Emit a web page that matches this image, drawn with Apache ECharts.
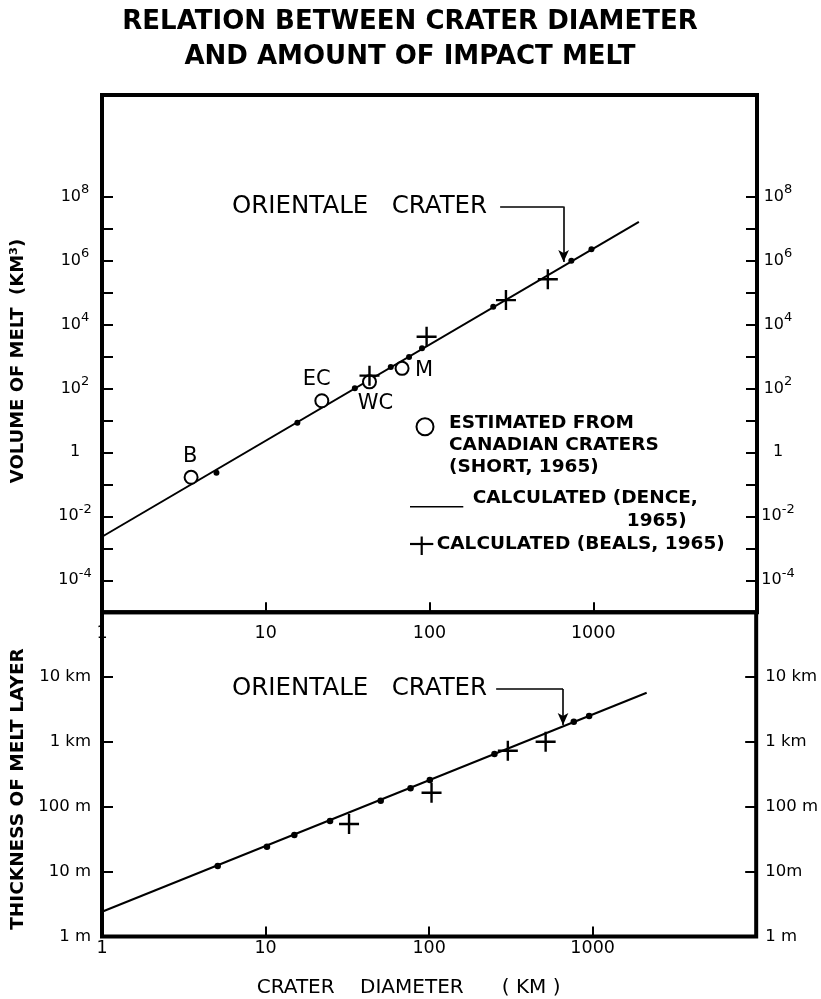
<!DOCTYPE html>
<html><head><meta charset="utf-8">
<script src="https://cdn.jsdelivr.net/npm/echarts@6/dist/echarts.min.js"></script>
<style>html,body{margin:0;padding:0;background:#fff}#c{width:821px;height:999px}</style>
</head><body><div id="c"></div>
<script>
// ---------- data ----------
const diameterLabelValues = [1, 10, 100, 1000];
const diameterTickValues = [10, 100, 1000];

// top panel: volume of melt (km^3)
const volumeTickValues = [1e-4, 1e-3, 1e-2, 1e-1, 1, 10, 100, 1e3, 1e4, 1e5, 1e6, 1e7, 1e8];
const volumeLabelValues = [1e-4, 1e-2, 1, 1e2, 1e4, 1e6, 1e8];
const denceLineD = [1, 1900];
const denceLineV = [0.0023, 1.61e7];
const denceDotD = [5, 15.6, 35, 58, 75, 90, 245, 735, 975];
const denceDotV = [0.23, 8.4, 100, 463, 950, 1780, 35500, 970000, 2240000];
const shortD = [3.5, 22, 43, 68];
const shortV = [0.166, 41, 160, 422];
const shortNames = ['B', 'EC', 'WC', 'M'];
const bealsVolD = [43, 96, 293, 528];
const bealsVolV = [250, 4100, 57500, 257000];

// bottom panel: thickness of melt layer (m)
const thickTickValues = [1, 10, 100, 1000, 10000];
const thickTickNames = ['1 m', '10 m', '100 m', '1 km', '10 km'];
const thickTickNamesRight = ['1 m', '10m', '100 m', '1 km', '10 km'];
const denceThickLineD = [1, 2140];
const denceThickLineT = [2.41, 5750];
const denceThickDotD = [5.1, 10.2, 15, 24.8, 50.6, 77, 101, 251, 767, 952];
const denceThickDotT = [12.2, 24.3, 36.7, 60.4, 124, 193, 259, 653, 2055, 2515];
const bealsThickD = [32.4, 103.5, 303, 516];
const bealsThickT = [54.3, 165, 734, 1010];

// Orientale crater annotation arrows (data coordinates)
const orientaleTopArrowD = [270, 659, 659];
const orientaleTopArrowV = [4.8e7, 4.8e7, 8.9e5];
const orientaleBottomArrowD = [257, 659, 659];
const orientaleBottomArrowT = [6560, 6560, 1830];

// ---------- helpers ----------
const FONT = 'DejaVu Sans';
const K = '#000';
const pairs = (xs, ys) => xs.map((x, i) => [x, ys[i]]);
const CROSS = 'path://M8.8,0h2.4v8.8h8.8v2.4h-8.8v8.8h-2.4v-8.8h-8.8v-2.4h8.8z';

function supLabel(v) {
  const e = Math.round(Math.log10(v));
  if (e === 0) return '{n|1}';
  return '{n|10}{e|' + e + '}';
}
const supRich = {
  n: {fontFamily: FONT, fontSize: 16, lineHeight: 26, color: K},
  e: {fontFamily: FONT, fontSize: 13, lineHeight: 10, verticalAlign: 'top', color: K}
};
function thickLabel(names) {
  return v => names[Math.round(Math.log10(v))];
}

const labelOffsets = {B: [-1, -21], EC: [-5, -21], WC: [6, 22], M: [22, 2]};

function arrowMarkLine(ds, vs) {
  return {
    silent: true,
    symbol: ['none', 'none'],
    lineStyle: {color: K, width: 1.6, type: 'solid', opacity: 1},
    label: {show: false},
    emphasis: {disabled: true},
    data: [
      [{coord: [ds[0], vs[0]]}, {coord: [ds[1], vs[1]]}],
      [{coord: [ds[1], vs[1]]}, {coord: [ds[2], vs[2]], symbol: 'arrow', symbolSize: [8, 12]}]
    ]
  };
}

function xAxisFor(grid, margin) {
  return {
    type: 'log', logBase: 10, gridIndex: grid, min: 1, max: 10000, position: 'bottom',
    axisLine: {show: false},
    splitLine: {show: false},
    minorTick: {show: false},
    axisTick: {show: true, inside: true, length: 10, lineStyle: {color: K, width: 2}, customValues: diameterTickValues},
    axisLabel: {show: true, margin: margin, color: K, fontFamily: FONT, fontSize: 17.5,
      customValues: diameterLabelValues, formatter: v => String(Math.round(v))}
  };
}
function yVol(pos, margin) {
  return {
    type: 'log', logBase: 10, gridIndex: 0, position: pos, min: 1e-5, max: Math.pow(10, 11.17),
    axisLine: {show: false}, splitLine: {show: false}, minorTick: {show: false},
    axisTick: {show: true, inside: true, length: 11, lineStyle: {color: K, width: 2}, customValues: volumeTickValues},
    axisLabel: {show: true, align: 'center', margin: margin, formatter: supLabel, rich: supRich,
      customValues: volumeLabelValues}
  };
}
function yThick(pos, margin, names) {
  return {
    type: 'log', logBase: 10, gridIndex: 1, position: pos, min: 1, max: 1e5,
    axisLine: {show: false}, splitLine: {show: false}, minorTick: {show: false},
    axisTick: {show: true, inside: true, length: 11, lineStyle: {color: K, width: 2}, customValues: thickTickValues},
    axisLabel: {show: true, margin: margin, color: K, fontFamily: FONT, fontSize: 16.5,
      customValues: thickTickValues, formatter: thickLabel(names)}
  };
}

function txt(x, y, text, opts) {
  const o = Object.assign({size: 18, weight: 'normal', align: 'left', valign: 'middle', rot: 0}, opts || {});
  return {
    type: 'text', x: x, y: y, rotation: o.rot, silent: true, z: 50,
    style: {text: text, fill: K, fontFamily: FONT, fontSize: o.size, fontWeight: o.weight,
      align: o.align, verticalAlign: o.valign, textAlign: o.align, textVerticalAlign: o.valign}
  };
}
function seg(x1, y1, x2, y2, w) {
  return {type: 'line', silent: true, z: 50, shape: {x1, y1, x2, y2}, style: {stroke: K, lineWidth: w || 2}};
}

const solid = {opacity: 1};

const option = {
  animation: false,
  backgroundColor: '#fff',
  grid: [
    {left: 102, top: 95, width: 655, height: 517.3, show: true, borderColor: K, borderWidth: 4, backgroundColor: 'transparent'},
    {left: 102, top: 612.3, width: 655, height: 324.2, show: true, borderColor: K, borderWidth: 4, backgroundColor: 'transparent'}
  ],
  xAxis: [xAxisFor(0, 12), xAxisFor(1, 3)],
  yAxis: [
    yVol('left', 27), yVol('right', 21),
    yThick('left', 11, thickTickNames), yThick('right', 9, thickTickNamesRight)
  ],
  series: [
    {type: 'line', name: 'Dence volume', xAxisIndex: 0, yAxisIndex: 0, data: pairs(denceLineD, denceLineV),
      showSymbol: false, lineStyle: {color: K, width: 2}, z: 2, silent: true},
    {type: 'scatter', name: 'Dence volume points', xAxisIndex: 0, yAxisIndex: 0, data: pairs(denceDotD, denceDotV),
      symbol: 'circle', symbolSize: 6, itemStyle: {color: K, opacity: 1}, z: 3, silent: true,
      markLine: arrowMarkLine(orientaleTopArrowD, orientaleTopArrowV)},
    {type: 'scatter', name: 'Short', xAxisIndex: 0, yAxisIndex: 0,
      data: shortD.map((d, i) => ({value: [d, shortV[i]], name: shortNames[i],
        label: {show: true, position: 'inside', offset: labelOffsets[shortNames[i]], formatter: shortNames[i],
          color: K, opacity: 1, fontFamily: FONT, fontSize: 21}})),
      symbol: 'circle', symbolSize: 13, itemStyle: {color: '#fff', borderColor: K, borderWidth: 2, opacity: 1}, z: 4, silent: true},
    {type: 'scatter', name: 'Beals volume', xAxisIndex: 0, yAxisIndex: 0, data: pairs(bealsVolD, bealsVolV),
      symbol: CROSS, symbolSize: 20, itemStyle: {color: K, opacity: 1}, z: 5, silent: true},

    {type: 'line', name: 'Dence thickness', xAxisIndex: 1, yAxisIndex: 2, data: pairs(denceThickLineD, denceThickLineT),
      showSymbol: false, lineStyle: {color: K, width: 2}, z: 2, silent: true},
    {type: 'scatter', name: 'Dence thickness points', xAxisIndex: 1, yAxisIndex: 2, data: pairs(denceThickDotD, denceThickDotT),
      symbol: 'circle', symbolSize: 6.5, itemStyle: {color: K, opacity: 1}, z: 3, silent: true,
      markLine: arrowMarkLine(orientaleBottomArrowD, orientaleBottomArrowT)},
    {type: 'scatter', name: 'Beals thickness', xAxisIndex: 1, yAxisIndex: 2, data: pairs(bealsThickD, bealsThickT),
      symbol: CROSS, symbolSize: 20, itemStyle: {color: K, opacity: 1}, z: 5, silent: true}
  ],
  graphic: [
    txt(410, 22, 'RELATION BETWEEN CRATER DIAMETER', {size: 26, weight: 'bold', align: 'center'}),
    txt(410, 57, 'AND AMOUNT OF IMPACT MELT', {size: 26, weight: 'bold', align: 'center'}),
    txt(18, 361, 'VOLUME OF MELT  (KM³)', {size: 18, weight: 'bold', align: 'center', rot: Math.PI / 2}),
    txt(18, 789, 'THICKNESS OF MELT LAYER', {size: 18.5, weight: 'bold', align: 'center', rot: Math.PI / 2}),
    txt(256.7, 987.7, 'CRATER    DIAMETER      ( KM )', {size: 20}),
    txt(232, 206.5, 'ORIENTALE   CRATER', {size: 24.5}),
    txt(232, 689, 'ORIENTALE   CRATER', {size: 24.5}),
    // legend
    {type: 'circle', silent: true, z: 50, shape: {cx: 425, cy: 426.7, r: 8.5}, style: {fill: 'none', stroke: K, lineWidth: 2}},
    txt(449, 422.7, 'ESTIMATED FROM', {size: 18.5, weight: 'bold'}),
    txt(449, 445, 'CANADIAN CRATERS', {size: 18.5, weight: 'bold'}),
    txt(449, 467.3, '(SHORT, 1965)', {size: 18.5, weight: 'bold'}),
    seg(410, 506.7, 463.3, 506.7, 1.6),
    txt(472.7, 498.3, 'CALCULATED (DENCE,', {size: 18.5, weight: 'bold'}),
    txt(686.7, 521, '1965)', {size: 18.5, weight: 'bold', align: 'right'}),
    seg(410, 544, 433.3, 544, 2.2),
    seg(421.7, 536.5, 421.7, 555, 2.2),
    txt(436.7, 544, 'CALCULATED (BEALS, 1965)', {size: 18.5, weight: 'bold'})
  ]
};

const chart = echarts.init(document.getElementById('c'), null, {renderer: 'canvas'});
chart.setOption(option);
</script>
</body></html>
